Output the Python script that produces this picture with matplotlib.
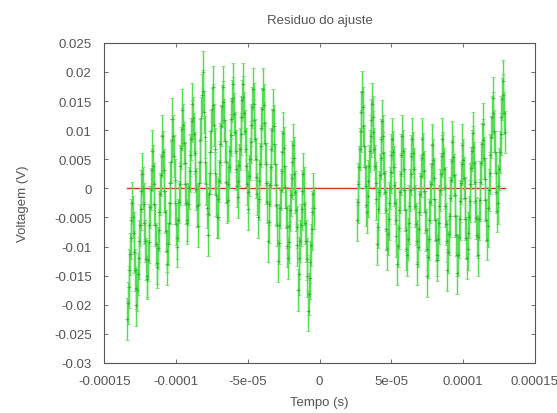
import matplotlib
matplotlib.use("Agg")
import numpy as np
import matplotlib.pyplot as plt

# tempo em microssegundos (um ponto a cada 0.5 us), residuo em mV
t_esq_ini = -134.0
t_dir_ini = 26.0
t_passo = 0.5

res_esq = [
    -22.5, -19.7, -16.9, -14.1, -11.3, -8.5, -5.5, -2.5, -4.9, -7.7, -10.9, -14.1, -17.1, -20.1,
    -17.5, -14.7, -11.9, -9.1, -6.3, -3.5, -0.5, 2.5, 0.1, -2.7, -5.9, -9.1, -12.1, -15.1,
    -15.5, -12.4, -9.3, -6.3, -3.2, -0.1, 3.2, 6.5, 3.9, 0.8, -2.7, -6.3, -9.6, -12.9,
    -13.5, -10.3, -7.2, -4.0, -0.9, 2.3, 5.6, 9.0, 6.3, 3.2, -0.4, -4.0, -7.4, -10.8,
    -13.0, -9.5, -6.0, -2.5, 1.0, 4.5, 8.3, 12.0, 9.0, 5.5, 1.5, -2.5, -6.2, -10.0,
    -8.5, -5.4, -2.3, 0.7, 3.8, 6.9, 10.2, 13.5, 10.9, 7.8, 4.3, 0.7, -2.6, -5.9,
    -5.5, -2.7, 0.1, 2.9, 5.7, 8.5, 11.5, 14.5, 12.1, 9.3, 6.1, 2.9, -0.1, -3.1,
    -6.5, -2.8, 0.9, 4.6, 8.3, 12.1, 16.0, 20.0, 16.8, 13.1, 8.9, 4.6, 0.7, -3.3,
    -8.0, -4.4, -0.9, 2.7, 6.3, 9.9, 13.7, 17.5, 14.4, 10.9, 6.8, 2.7, -1.1, -4.9,
    -5.0, -1.8, 1.3, 4.5, 7.6, 10.8, 14.1, 17.5, 14.8, 11.7, 8.1, 4.5, 1.1, -2.3,
    -2.0, 0.8, 3.6, 6.4, 9.2, 12.0, 15.0, 18.0, 15.6, 12.8, 9.6, 6.4, 3.4, 0.4,
    -1.5, 1.2, 4.0, 6.7, 9.4, 12.2, 15.1, 18.0, 15.7, 12.9, 9.8, 6.7, 3.8, 0.8,
    -3.5, -0.6, 2.2, 5.1, 8.0, 10.9, 13.9, 17.0, 14.5, 11.7, 8.4, 5.1, 2.0, -1.0,
    -5.0, -1.9, 1.2, 4.2, 7.3, 10.4, 13.7, 17.0, 14.4, 11.3, 7.8, 4.2, 0.9, -2.4,
    -9.0, -5.8, -2.7, 0.5, 3.6, 6.8, 10.1, 13.5, 10.8, 7.7, 4.1, 0.5, -2.9, -6.3,
    -12.5, -9.4, -6.3, -3.3, -0.2, 2.9, 6.2, 9.5, 6.9, 3.8, 0.3, -3.3, -6.6, -9.9,
    -12.0, -9.3, -6.5, -3.8, -1.1, 1.7, 4.6, 7.5, 5.2, 2.4, -0.7, -3.8, -6.7, -9.7,
    -17.5, -14.7, -11.9, -9.1, -6.3, -3.5, -0.5, 2.5, 0.1, -2.7, -5.9, -9.1, -12.1, -15.1,
    -21.0, -18.2, -15.4, -12.6, -9.8, -7.0, -4.0, -1.0, -3.4,
]

res_dir = [
    -5.5, -2.4, 0.7, 3.7, 6.8, 9.9, 13.2, 16.5, 13.9, 10.8, 7.3, 3.7, 0.4, -2.9,
    -4.0, -1.4, 1.2, 3.8, 6.4, 9.0, 11.7, 14.5, 12.3, 9.7, 6.7, 3.8, 1.0, -1.8,
    -9.5, -6.6, -3.6, -0.7, 2.3, 5.2, 8.4, 11.5, 9.0, 6.0, 2.7, -0.7, -3.8, -7.0,
    -10.5, -7.8, -5.2, -2.5, 0.1, 2.8, 5.7, 8.5, 6.2, 3.6, 0.5, -2.5, -5.4, -8.2,
    -13.0, -9.9, -6.8, -3.8, -0.7, 2.4, 5.7, 9.0, 6.4, 3.3, -0.2, -3.8, -7.1, -10.4,
    -11.5, -8.7, -5.9, -3.1, -0.3, 2.5, 5.5, 8.5, 6.1, 3.3, 0.1, -3.1, -6.1, -9.1,
    -13.0, -10.0, -7.0, -4.0, -1.0, 2.1, 5.3, 8.5, 5.9, 2.9, -0.5, -4.0, -7.2, -10.4,
    -15.0, -11.8, -8.7, -5.5, -2.4, 0.8, 4.1, 7.5, 4.8, 1.7, -1.9, -5.5, -8.9, -12.3,
    -11.5, -8.7, -5.9, -3.1, -0.3, 2.5, 5.5, 8.5, 6.1, 3.3, 0.1, -3.1, -6.1, -9.1,
    -14.0, -10.9, -7.8, -4.8, -1.7, 1.4, 4.7, 8.0, 5.4, 2.3, -1.2, -4.8, -8.1, -11.4,
    -14.5, -11.4, -8.3, -5.3, -2.2, 0.9, 4.2, 7.5, 4.9, 1.8, -1.7, -5.3, -8.6, -11.9,
    -10.5, -7.7, -4.9, -2.1, 0.7, 3.5, 6.5, 9.5, 7.1, 4.3, 1.1, -2.1, -5.1, -8.1,
    -11.5, -8.3, -5.2, -2.0, 1.1, 4.3, 7.6, 11.0, 8.3, 5.2, 1.6, -2.0, -5.4, -8.8,
    -6.5, -3.4, -0.3, 2.7, 5.8, 8.9, 12.2, 15.5, 12.9, 9.8, 6.3, 2.7, -0.6, -3.9,
    -2.5, 0.4, 3.4, 6.3, 9.3, 12.2, 15.4, 18.5, 16.0, 13.0, 9.7,
]

erro_mV = 3.6

y_ticks = [0.025, 0.02, 0.015, 0.01, 0.005, 0, -0.005, -0.01, -0.015, -0.02, -0.025, -0.03]
y_labels = ["0.025", "0.02", "0.015", "0.01", "0.005", "0", "-0.005", "-0.01",
            "-0.015", "-0.02", "-0.025", "-0.03"]
x_ticks = [-0.00015, -0.0001, -5e-05, 0, 5e-05, 0.0001, 0.00015]
x_labels = ["-0.00015", "-0.0001", "-5e-05", "0", "5e-05", "0.0001", "0.00015"]

plt.rcParams["font.family"] = ["Liberation Sans", "DejaVu Sans"]
texto = "#555555"

t_esq = t_esq_ini + t_passo * np.arange(len(res_esq))
t_dir = t_dir_ini + t_passo * np.arange(len(res_dir))
t = np.concatenate([t_esq, t_dir]) * 1e-6
r = np.array(res_esq + res_dir) * 1e-3

fig = plt.figure(figsize=(5.57, 4.14), dpi=100)
ax = fig.add_axes([0.187, 0.121, 0.7735, 0.773])

ax.errorbar(t, r, yerr=erro_mV * 1e-3, fmt="+", color="#3aa83a", markersize=2.5,
            markeredgewidth=0.5, ecolor="#55dd55", elinewidth=1.05, capsize=1.3,
            capthick=0.5, zorder=2)
ax.plot([t.min(), t.max()], [0, 0], color="#e03020", lw=1.0, zorder=1)

ax.set_xlim(-0.00015, 0.00015)
ax.set_ylim(-0.03, 0.025)
ax.set_xticks(x_ticks)
ax.set_xticklabels(x_labels)
ax.set_yticks(y_ticks)
ax.set_yticklabels(y_labels)
ax.tick_params(direction="in", length=3, width=0.6, colors="#555555",
               labelcolor=texto, labelsize=9.5, top=True, right=True, pad=9)
for s in ax.spines.values():
    s.set_color("#555555")
    s.set_linewidth(0.8)

ax.set_title("Residuo do ajuste", fontsize=9.5, color=texto, pad=14)
ax.set_xlabel("Tempo (s)", fontsize=9.5, color=texto, labelpad=6)
ax.set_ylabel("Voltagem (V)", fontsize=9.5, color=texto, labelpad=18)

fig.savefig("out.png", dpi=100)
